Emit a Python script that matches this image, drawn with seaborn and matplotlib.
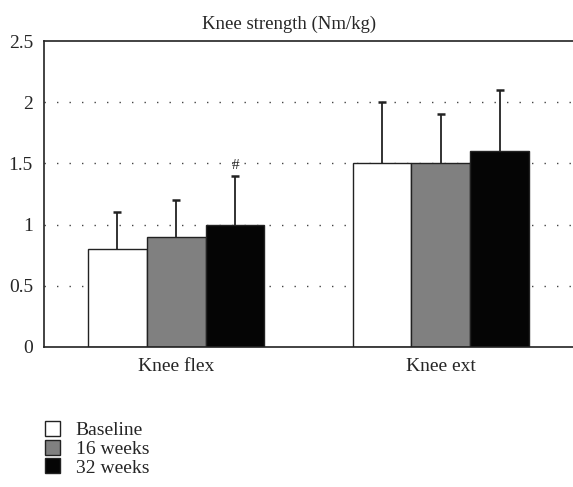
import pandas as pd
import numpy as np
import seaborn as sns
import matplotlib.pyplot as plt
from matplotlib.patches import Patch

# values
muscles = ["Knee flex", "Knee ext"]
timepoints = ["Baseline", "16 weeks", "32 weeks"]
means = [[0.8, 0.9, 1.0],   # knee flex
         [1.5, 1.5, 1.6]]   # knee ext
sds = [[0.3, 0.3, 0.4],
       [0.5, 0.4, 0.5]]
colors = ["#ffffff", "#808080", "#050505"]

rows = []
for i, m in enumerate(muscles):
    for j, t in enumerate(timepoints):
        rows.append({"muscle": m, "time": t, "value": means[i][j], "sd": sds[i][j]})
df = pd.DataFrame(rows)

sns.set_style("white")
plt.rcParams['font.family'] = ['Liberation Serif', 'DejaVu Serif']

fig = plt.figure(figsize=(5.73, 4.87), dpi=100)
ax = fig.add_axes([0.0768, 0.2875, 0.9232, 0.6283])

for y in [0.5, 1.0, 1.5, 2.0]:
    ax.axhline(y, color="#444444", lw=1.0, ls=(0, (1, 8)), zorder=0)

sns.barplot(data=df, x="muscle", y="value", hue="time", order=muscles,
            hue_order=timepoints, palette=colors, width=0.667,
            edgecolor="#222222", linewidth=1.0, errorbar=None,
            legend=False, ax=ax, zorder=2)

# error bars (upward only), one per bar in the order seaborn draws them
for j, t in enumerate(timepoints):
    cont = ax.containers[j]
    for i, patch in enumerate(cont.patches):
        xc = patch.get_x() + patch.get_width() / 2
        _, caps, _ = ax.errorbar(xc, means[i][j], yerr=[[0], [sds[i][j]]],
                                 fmt="none", ecolor="#222222", elinewidth=1.3,
                                 capsize=3, capthick=1.8, zorder=3)
        caps[0].set_visible(False)

# significance mark above 32 week knee flex
p = ax.containers[2].patches[0]
ax.text(p.get_x() + p.get_width() / 2, means[0][2] + sds[0][2] + 0.03, "#",
        ha="center", va="bottom", fontsize=11)

ax.set_ylim(0, 2.5)
ax.set_xlim(-0.5, 1.5)
ax.set_yticks([0, 0.5, 1, 1.5, 2, 2.5])
ax.set_yticklabels(["0", "0.5", "1", "1.5", "2", "2.5"])
ax.tick_params(axis="y", length=0, labelsize=14, pad=8)
ax.tick_params(axis="x", length=0, labelsize=14, pad=8)
ax.set_xlabel("")
ax.set_ylabel("")
ax.set_title("Knee strength (Nm/kg)", fontsize=13.5, pad=9)
ax.title.set_x((289 - 44) / 529)

for s in ["left", "bottom", "top"]:
    ax.spines[s].set_visible(True)
    ax.spines[s].set_color("#222222")
    ax.spines[s].set_linewidth(1.2)
ax.spines["right"].set_visible(False)

handles = [Patch(facecolor=c, edgecolor="#222222", linewidth=1.0) for c in colors]
fig.legend(handles, timepoints, loc="upper left", bbox_to_anchor=(0.078, 0.135),
           frameon=False, fontsize=14, handlelength=0.8, handleheight=0.8,
           handletextpad=0.8, labelspacing=0.02, borderaxespad=0, borderpad=0)

plt.savefig("out.png", dpi=100)
